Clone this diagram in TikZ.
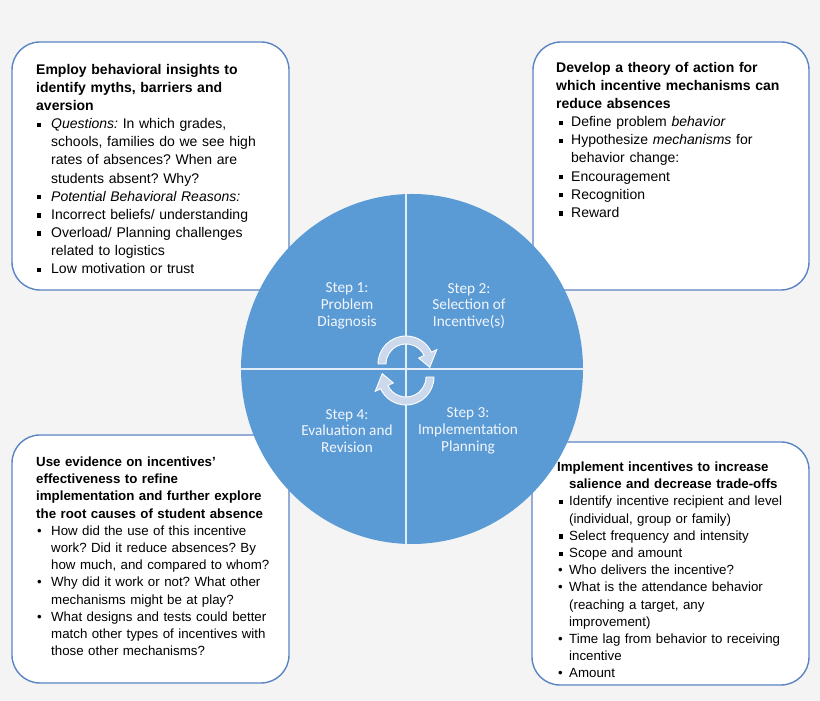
\documentclass[tikz,border=0pt]{standalone}
\usepackage{fontspec}
\setmainfont{Liberation Sans}
\newfontfamily\calibrifont{Carlito}
\frenchspacing
\definecolor{bgcol}{HTML}{F4F4F4}
\definecolor{boxline}{HTML}{5B84C4}
\definecolor{wheelcol}{HTML}{5B9BD5}
\definecolor{divcol}{HTML}{E3EDF8}
\definecolor{arrowcol}{HTML}{CCD9EC}
\definecolor{stepcol}{HTML}{F2F6FB}
\newcommand{\sqmark}{\rule[1.7pt]{4.2pt}{4.2pt}}
\newcommand{\tlb}{\makebox[15pt][l]{\hspace*{1pt}\sqmark}}
\newcommand{\trb}{\makebox[15pt][l]{\hspace*{3pt}\sqmark}}
\newcommand{\blb}{\makebox[15pt][l]{\hspace*{1pt}\textbullet}}
\newcommand{\brsq}{\makebox[12pt][l]{\hspace*{2pt}\sqmark}}
\newcommand{\brrd}{\makebox[12pt][l]{\hspace*{1pt}\textbullet}}
\newcommand{\indA}{\hspace*{15pt}}
\newcommand{\indB}{\hspace*{12pt}}
\tikzset{
  infobox/.style={draw=boxline, line width=1.4pt, fill=white, rounded corners=28pt},
  boxtext/.style={anchor=base west, inner sep=0pt, align=left, text width=#1},
  bigfont/.style={font=\fontsize{14pt}{18.1pt}\selectfont},
  smallfont/.style={font=\fontsize{13.3pt}{17.2pt}\selectfont},
  steptext/.style={font=\calibrifont\fontsize{15.3pt}{16.8pt}\selectfont, text=stepcol, align=center, inner sep=0pt},
  divline/.style={draw=divcol, line width=1.8pt},
  cyclearrow/.style={fill=arrowcol, draw=white, line width=0.9pt}
}
\begin{document}
\begin{tikzpicture}[x=1pt, y=1pt]
\useasboundingbox (0,0) rectangle (820,701);
\fill[bgcol] (0,0) rectangle (820,701);

% four boxes
\draw[infobox] (12,411) rectangle (289,659);
\draw[infobox] (533,411) rectangle (809,659);
\draw[infobox] (12,18) rectangle (289,266);
\draw[infobox] (532,16) rectangle (809,259);

% box texts
\node[boxtext=250pt, bigfont] (tltext) at (36,626.5) {%
\textbf{Employ behavioral insights to}\\
\textbf{identify myths, barriers and}\\
\textbf{aversion}\\
\tlb\textit{Questions:} In which grades,\\
\indA schools, families do we see high\\
\indA rates of absences? When are\\
\indA students absent? Why?\\
\tlb\textit{Potential Behavioral Reasons:}\\
\tlb Incorrect beliefs/ understanding\\
\tlb Overload/ Planning challenges\\
\indA related to logistics\\
\tlb Low motivation or trust};

\node[boxtext=250pt, bigfont] (trtext) at (556,628.5) {%
\textbf{Develop a theory of action for}\\
\textbf{which incentive mechanisms can}\\
\textbf{reduce absences}\\
\trb Define problem \textit{behavior}\\
\trb Hypothesize \textit{mechanisms} for\\
\indA behavior change:\\
\trb Encouragement\\
\trb Recognition\\
\trb Reward};

\node[boxtext=252pt, smallfont] (bltext) at (36,234.5) {%
\textbf{Use evidence on incentives'}\\
\textbf{effectiveness to refine}\\
\textbf{implementation and further explore}\\
\textbf{the root causes of student absence}\\
\blb How did the use of this incentive\\
\indA work? Did it reduce absences? By\\
\indA how much, and compared to whom?\\
\blb Why did it work or not? What other\\
\indA mechanisms might be at play?\\
\blb What designs and tests could better\\
\indA match other types of incentives with\\
\indA those other mechanisms?};

\node[boxtext=250pt, smallfont] (brtext) at (557,229.5) {%
\textbf{Implement incentives to increase}\\
\indB\textbf{salience and decrease trade-offs}\\
\brsq Identify incentive recipient and level\\
\indB (individual, group or family)\\
\brsq Select frequency and intensity\\
\brsq Scope and amount\\
\brrd Who delivers the incentive?\\
\brrd What is the attendance behavior\\
\indB (reaching a target, any\\
\indB improvement)\\
\brrd Time lag from behavior to receiving\\
\indB incentive\\
\brrd Amount};

% central wheel
\fill[wheelcol] (412,332) ellipse[x radius=171pt, y radius=175pt];
\begin{scope}
  \clip (412,332) ellipse[x radius=171pt, y radius=175pt];
  \draw[divline] (230,332) -- (600,332);
  \draw[divline] (406,140) -- (406,520);
\end{scope}

% cycle arrows
\path[cyclearrow] ([shift={(406,337)}]180:28pt)
  arc[start angle=180, end angle=25, radius=28pt]
  -- ([shift={(406,337)}]25:34pt)
  -- ([shift={(406,337)}]-8:24pt)
  -- ([shift={(406,337)}]25:14pt)
  -- ([shift={(406,337)}]25:20pt)
  arc[start angle=25, end angle=180, radius=20pt] -- cycle;
\begin{scope}[rotate around={180:(406,330.5)}]
\path[cyclearrow] ([shift={(406,337)}]180:28pt)
  arc[start angle=180, end angle=25, radius=28pt]
  -- ([shift={(406,337)}]25:34pt)
  -- ([shift={(406,337)}]-8:24pt)
  -- ([shift={(406,337)}]25:14pt)
  -- ([shift={(406,337)}]25:20pt)
  arc[start angle=25, end angle=180, radius=20pt] -- cycle;
\end{scope}

% step labels
\node[steptext] (step1) at (347,395) {Step 1:\\Problem\\Diagnosis};
\node[steptext] (step2) at (469,395) {Step 2:\\Selection of\\Incentive(s)};
\node[steptext] (step4) at (347,270) {Step 4:\\Evaluation and\\Revision};
\node[steptext] (step3) at (468,270) {Step 3:\\Implementation\\Planning};
\end{tikzpicture}
\end{document}
